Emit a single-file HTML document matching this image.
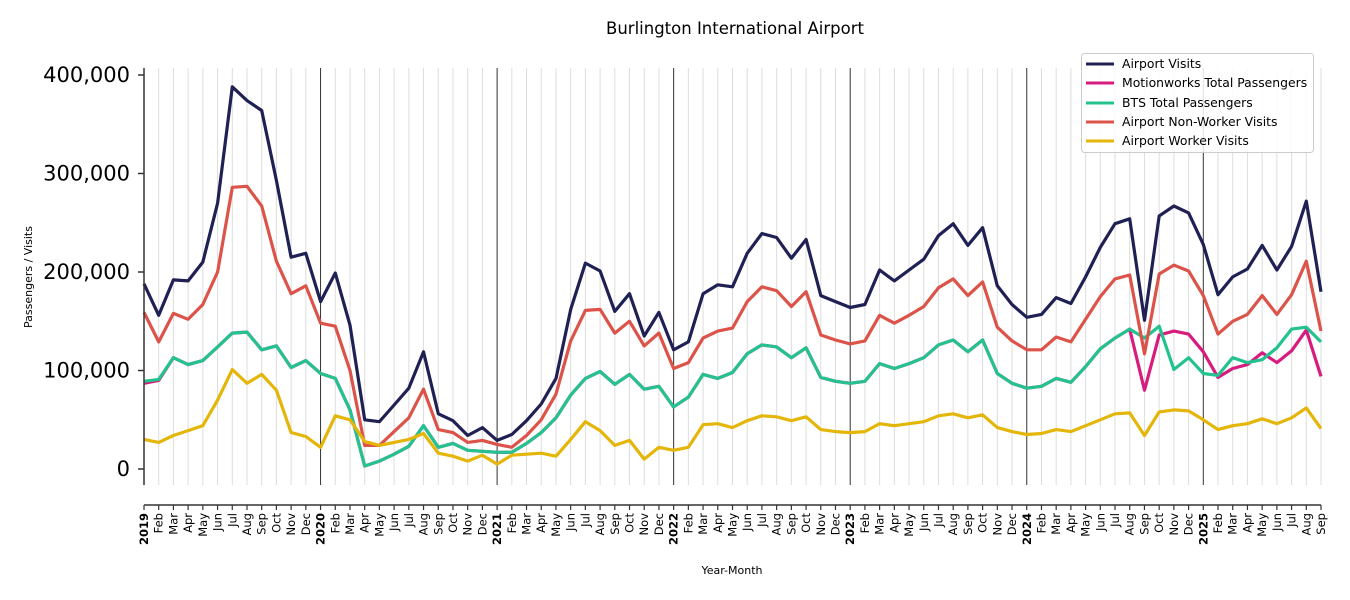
<!DOCTYPE html>
<html><head><meta charset="utf-8"><style>
html,body{margin:0;padding:0;background:#fff;}
svg{display:block;font-family:"DejaVu Sans","Liberation Sans",sans-serif;}
</style></head><body>
<svg id="c" width="1350" height="600" viewBox="0 0 1350 600" xmlns="http://www.w3.org/2000/svg">
<text x="735" y="34" font-size="16.5" text-anchor="middle" fill="#000">Burlington International Airport</text>
<text transform="translate(32,277) rotate(-90)" font-size="11" text-anchor="middle" fill="#000">Passengers / Visits</text>
<text x="732" y="574" font-size="11" text-anchor="middle" fill="#000">Year-Month</text>
<g id="grid"></g>
<g id="series"></g>
<g id="axes"></g>
<g>
<rect x="1081.5" y="53.5" width="232" height="99" rx="3" fill="#fff" fill-opacity="0.85" stroke="#ccc"/>
<line x1="1086" y1="64" x2="1114" y2="64" stroke="#1f2053" stroke-width="3"/>
<text x="1122" y="68" font-size="12.4">Airport Visits</text>
<line x1="1086" y1="83" x2="1114" y2="83" stroke="#d81b7f" stroke-width="3"/>
<text x="1122" y="87" font-size="12.4">Motionworks Total Passengers</text>
<line x1="1086" y1="103" x2="1114" y2="103" stroke="#24c28f" stroke-width="3"/>
<text x="1122" y="107" font-size="12.4">BTS Total Passengers</text>
<line x1="1086" y1="122" x2="1114" y2="122" stroke="#dc5349" stroke-width="3"/>
<text x="1122" y="126" font-size="12.4">Airport Non-Worker Visits</text>
<line x1="1086" y1="141" x2="1114" y2="141" stroke="#e4b60a" stroke-width="3"/>
<text x="1122" y="145" font-size="12.4">Airport Worker Visits</text>
</g>
</svg>
<script>
var NS="http://www.w3.org/2000/svg";
function el(p,t,a,txt){var e=document.createElementNS(NS,t);for(var k in a)e.setAttribute(k,a[k]);if(txt!=null)e.textContent=txt;p.appendChild(e);return e;}
var X0=144,ST=1177/80;function X(i){return X0+i*ST;}function Y(v){return 469-v*0.985;}
var grid=document.getElementById("grid"),axes=document.getElementById("axes"),ser=document.getElementById("series");
var mn=["Jan","Feb","Mar","Apr","May","Jun","Jul","Aug","Sep","Oct","Nov","Dec"];
for(var i=0;i<81;i++){var x=X(i);var yr=i%12==0;
 el(grid,"line",{x1:x,y1:68,x2:x,y2:485,stroke:yr?"#333":"#ddd","stroke-width":1});
 el(axes,"line",{x1:x,y1:505,x2:x,y2:510,stroke:"#333","stroke-width":1.2});
 var lab=yr?String(2019+i/12):mn[i%12];
 el(axes,"text",{transform:"translate("+(x+4)+",513) rotate(-90)","font-size":"11.5","text-anchor":"end","font-weight":yr?"bold":"normal"},lab);
}
el(axes,"line",{x1:144,y1:505,x2:1321,y2:505,stroke:"#333","stroke-width":1.5});
el(axes,"line",{x1:144,y1:68,x2:144,y2:485,stroke:"#333","stroke-width":1.5});
[0,100,200,300,400].forEach(function(v){var y=Y(v);
 el(axes,"line",{x1:138,y1:y,x2:144,y2:y,stroke:"#333","stroke-width":1.5});
 el(axes,"text",{x:130,y:y+7,"font-size":"21","text-anchor":"end"},v==0?"0":v+",000");});
var navy=[188,156,192,191,210,270,388,374,364,293,215,219,170,199,146,50,48,65,82,119,56,49,34,42,29,35,49,66,92,162,209,201,160,178,135,159,121,129,178,187,185,219,239,235,214,233,176,170,164,167,202,191,202,213,237,249,227,245,186,167,154,157,174,168,195,225,249,254,151,257,267,260,228,177,195,203,227,202,226,272,180];
var red=[159,129,158,152,167,200,286,287,267,211,178,186,148,145,100,24,24,38,52,81,40,37,27,29,25,22,34,50,76,130,161,162,138,150,125,138,102,108,133,140,143,170,185,181,165,180,136,131,127,130,156,148,156,165,184,193,176,190,144,130,121,121,134,129,152,175,193,197,117,198,207,201,176,137,150,157,176,157,177,211,140];
var green=[89,91,113,106,110,124,138,139,121,125,103,110,97,92,60,3,8,15,23,44,22,26,19,18,17,17,26,37,52,75,92,99,86,96,81,84,63,73,96,92,98,117,126,124,113,123,93,89,87,89,107,102,107,113,126,131,119,131,97,87,82,84,92,88,104,122,133,142,133,145,101,113,97,95,113,108,111,123,142,144,129];
var mag=green.slice();mag[0]=87;mag[1]=90;
var mt=[80,136,140,137,119,93,102,106,118,108,120,141,94];for(var k=0;k<mt.length;k++)mag[68+k]=mt[k];
var yel=[30,27,34,39,44,70,101,87,96,80,37,33,22,54,50,28,24,27,30,36,16,13,8,14,5,14,15,16,13,30,48,39,24,29,10,22,19,22,45,46,42,49,54,53,49,53,40,38,37,38,46,44,46,48,54,56,52,55,42,38,35,36,40,38,44,50,56,57,34,58,60,59,50,40,44,46,51,46,52,62,41];
function line(d,c){el(ser,"polyline",{points:d.map(function(v,i){return X(i).toFixed(1)+","+Y(v).toFixed(1);}).join(" "),fill:"none",stroke:c,"stroke-width":3.2,"stroke-linejoin":"round"});}
line(navy,"#1f2053");line(mag,"#d81b7f");line(green,"#24c28f");line(red,"#dc5349");line(yel,"#e4b60a");
</script>
</body></html>
